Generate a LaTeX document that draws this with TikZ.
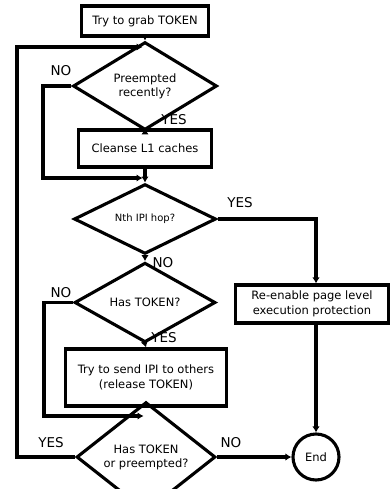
\documentclass[tikz,border=0pt]{standalone}
\usepackage{fontspec}
\setmainfont{DejaVu Sans}
\usetikzlibrary{shapes.geometric,arrows.meta}
\begin{document}
\begin{tikzpicture}[x=1pt,y=-1pt,
  lw/.style={line width=3.1pt},
  boxnode/.style={draw,lw,rectangle,inner sep=0pt,align=center,font=\fontsize{11.5}{15}\selectfont},
  decnode/.style={draw,lw,diamond,inner sep=0pt,align=center,font=\fontsize{11.5}{14}\selectfont},
  endnode/.style={draw,lw,circle,inner sep=0pt,minimum size=46pt,font=\fontsize{11.5}{14}\selectfont},
  lbl/.style={font=\fontsize{13.5}{16}\selectfont,inner sep=0pt},
  conn/.style={lw,line join=miter},
  arr/.style={conn,-{Latex[length=6pt,width=7.5pt]}}]
\useasboundingbox (0,0) rectangle (389,489);
\node[boxnode,minimum width=127pt,minimum height=30pt] (grab) at (145,21) {Try to grab TOKEN};
\node[decnode,minimum width=144pt,minimum height=61pt] (d1) at (145,86) {Preempted\\recently?};
\node[boxnode,minimum width=133pt,minimum height=37pt] (cleanse) at (145,148.5) {Cleanse L1 caches};
\node[decnode,minimum width=142pt,minimum height=60pt,font=\fontsize{10}{12}\selectfont] (d2) at (145,219) {Nth IPI hop?};
\node[decnode,minimum width=141pt,minimum height=61pt] (d3) at (145,302.5) {Has TOKEN?};
\node[boxnode,minimum width=161pt,minimum height=57pt] (send) at (146,377.5) {Try to send IPI to others\\(release TOKEN)};
\node[decnode,minimum width=139pt,minimum height=62pt] (d4) at (146,457) {Has TOKEN\\or preempted?};
\node[boxnode,minimum width=153pt,minimum height=38pt] (reen) at (312,304) {Re-enable page level\\execution protection};
\node[endnode] (endc) at (316,457) {End};

\coordinate (j1) at (142.5,47);
\coordinate (j2) at (142.5,178);
\coordinate (j3) at (143.5,416);

% main flow
\draw[arr] (grab.south) -- (d1.north);
\draw[arr] (d1.south) -- (cleanse.north);
\draw[arr] (cleanse.south) -- (d2.north);
\draw[arr] (d2.south) -- (d3.north);
\draw[arr] (d3.south) -- (send.north);
\draw[arr] (send.south) -- (d4.north);
% bypasses
\draw[arr] (d1.west) -- (43,86) |- (j2);
\draw[arr] (d3.west) -- (44,302.5) |- (j3);
% loop back
\draw[arr] (d4.west) -- (17,457) |- (j1);
% right branch
\draw[arr] (d2.east) -| (endc |- reen.north);
\draw[arr] (endc |- reen.south) -- (endc.north);
\draw[arr] (d4.east) -- (endc.west);

% labels
\node[lbl] at (61,71) {NO};
\node[lbl] at (174,120) {YES};
\node[lbl] at (240,203) {YES};
\node[lbl] at (163,263) {NO};
\node[lbl] at (61,293) {NO};
\node[lbl] at (164,338) {YES};
\node[lbl] at (51,443) {YES};
\node[lbl] at (231,443) {NO};
\end{tikzpicture}
\end{document}
